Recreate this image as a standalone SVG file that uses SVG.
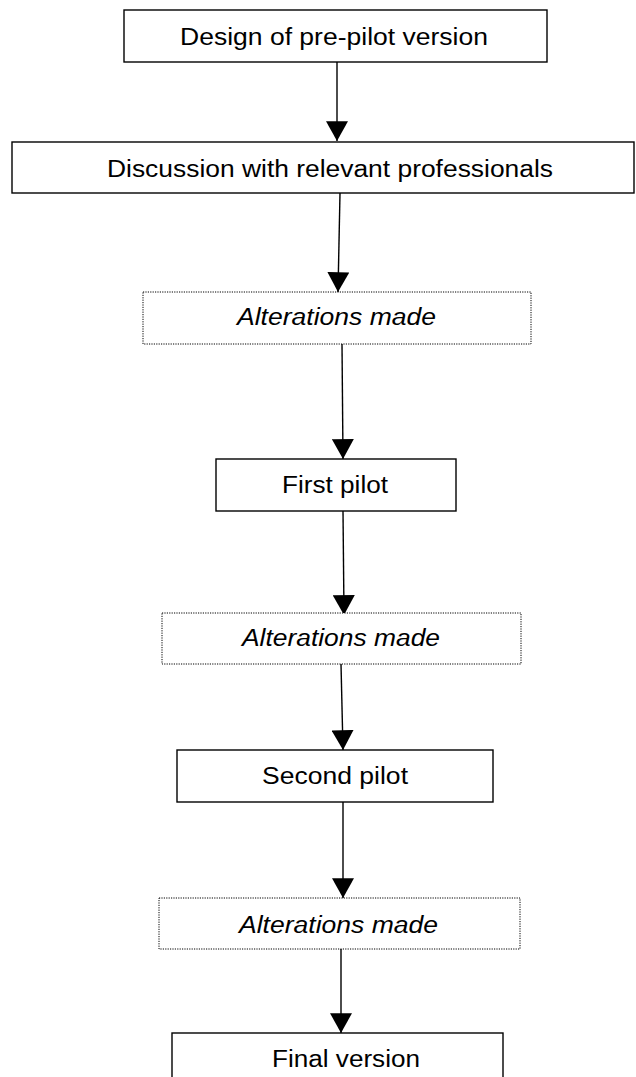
<svg xmlns="http://www.w3.org/2000/svg" width="636" height="1077" viewBox="0 0 636 1077">
<defs>
<style>
.box{fill:#fff;stroke:#000;stroke-width:1.4}
.dot{fill:#fff;stroke:#000;stroke-width:1;stroke-dasharray:1.2 1.2}
.t{font-family:"Liberation Sans",Arial,sans-serif;font-size:23px;fill:#000}
.i{font-style:italic}
.c{stroke:#000;stroke-width:1.4;fill:none}
</style>
<marker id="ah" markerUnits="userSpaceOnUse" markerWidth="20" markerHeight="22" viewBox="0 0 18 20" refX="18" refY="10" orient="auto">
<path d="M0,0 L18,10 L0,20 z" fill="#000"/>
</marker>
</defs>
<rect width="636" height="1077" fill="#fff"/>
<g id="connectors">
<line class="c" x1="337" y1="62" x2="337" y2="141" marker-end="url(#ah)"/>
<line class="c" x1="340" y1="193" x2="338" y2="292" marker-end="url(#ah)"/>
<line class="c" x1="342" y1="344" x2="343" y2="459" marker-end="url(#ah)"/>
<line class="c" x1="343" y1="511" x2="344" y2="615" marker-end="url(#ah)"/>
<line class="c" x1="341" y1="664" x2="343" y2="750" marker-end="url(#ah)"/>
<line class="c" x1="343" y1="802" x2="343" y2="898" marker-end="url(#ah)"/>
<line class="c" x1="341" y1="949" x2="341" y2="1033" marker-end="url(#ah)"/>
</g>
<g id="n1">
<rect class="box" x="124" y="10" width="423" height="52"/>
<text class="t" x="180" y="45" textLength="308" lengthAdjust="spacingAndGlyphs">Design of pre-pilot version</text>
</g>
<g id="n2">
<rect class="box" x="12" y="142" width="622" height="51"/>
<text class="t" x="107" y="177" textLength="446" lengthAdjust="spacingAndGlyphs">Discussion with relevant professionals</text>
</g>
<g id="n3">
<rect class="dot" x="143" y="292" width="388" height="52"/>
<text class="t i" x="237" y="325" textLength="199" lengthAdjust="spacingAndGlyphs">Alterations made</text>
</g>
<g id="n4">
<rect class="box" x="216" y="459" width="240" height="52"/>
<text class="t" x="282" y="493" textLength="106" lengthAdjust="spacingAndGlyphs">First pilot</text>
</g>
<g id="n5">
<rect class="dot" x="162" y="613" width="359" height="51"/>
<text class="t i" x="242" y="646" textLength="198" lengthAdjust="spacingAndGlyphs">Alterations made</text>
</g>
<g id="n6">
<rect class="box" x="177" y="750" width="316" height="52"/>
<text class="t" x="262" y="784" textLength="146" lengthAdjust="spacingAndGlyphs">Second pilot</text>
</g>
<g id="n7">
<rect class="dot" x="159" y="898" width="361" height="51"/>
<text class="t i" x="239" y="933" textLength="199" lengthAdjust="spacingAndGlyphs">Alterations made</text>
</g>
<g id="n8">
<rect class="box" x="172" y="1033" width="331" height="52"/>
<text class="t" x="272" y="1067" textLength="148" lengthAdjust="spacingAndGlyphs">Final version</text>
</g>
</svg>
